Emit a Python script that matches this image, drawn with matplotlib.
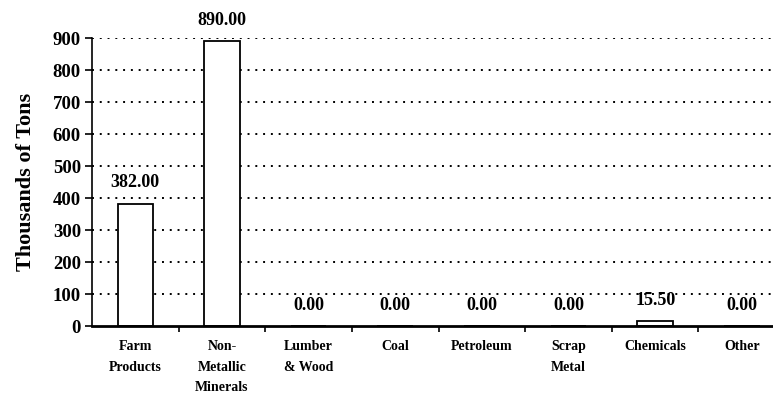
import matplotlib.pyplot as plt
import numpy as np

# donnees
categories = ["Farm\nProducts", "Non-\nMetallic\nMinerals", "Lumber\n& Wood", "Coal",
              "Petroleum", "Scrap\nMetal", "Chemicals", "Other"]
tons = [382.00, 890.00, 0.00, 0.00, 0.00, 0.00, 15.50, 0.00]
yticks = [0, 100, 200, 300, 400, 500, 600, 700, 800, 900]

serif = "Liberation Serif"

fig = plt.figure(figsize=(7.73, 4.01), dpi=100)
ax = fig.add_axes([0.119, 0.187, 0.881, 0.718])

x = np.arange(len(categories))
# grille pointillee derriere les barres
for v in yticks[1:]:
    ax.axhline(v, color="black", linestyle=(0, (1, 3)), linewidth=1.4, zorder=1)

bars = ax.bar(x, tons, width=0.41, color="white", edgecolor="black", linewidth=1.3, zorder=2)

# etiquettes des valeurs
for xi, v in zip(x, tons):
    ax.annotate("%.2f" % v, (xi, v), xytext=(0, 9), textcoords="offset points",
                ha="center", va="bottom", fontsize=13, fontweight="bold",
                family=serif, annotation_clip=False)

ax.set_xlim(-0.5, 7.36)
ax.set_ylim(0, 900)
ax.set_yticks(yticks)
ax.set_yticklabels([str(v) for v in yticks], fontsize=13.5, fontweight="bold", family=serif)

# ticks x entre les categories
ax.set_xticks(np.arange(0.5, 7, 1))
ax.set_xticklabels([])
ax.tick_params(axis="x", direction="out", length=4, width=1.2)
ax.tick_params(axis="y", direction="out", length=5, width=1.2, pad=3)
for xi, lab in zip(x, categories):
    ax.text(xi, -0.05, lab, transform=ax.get_xaxis_transform(), ha="center", va="top",
            fontsize=10, fontweight="bold", family=serif, linespacing=1.75)

ax.set_ylabel("Thousands of Tons", fontsize=16, fontweight="bold", family=serif, labelpad=12)

ax.spines["top"].set_visible(False)
ax.spines["right"].set_visible(False)
ax.spines["left"].set_linewidth(1.2)
ax.spines["bottom"].set_linewidth(2)

fig.savefig("out.png", dpi=100)
